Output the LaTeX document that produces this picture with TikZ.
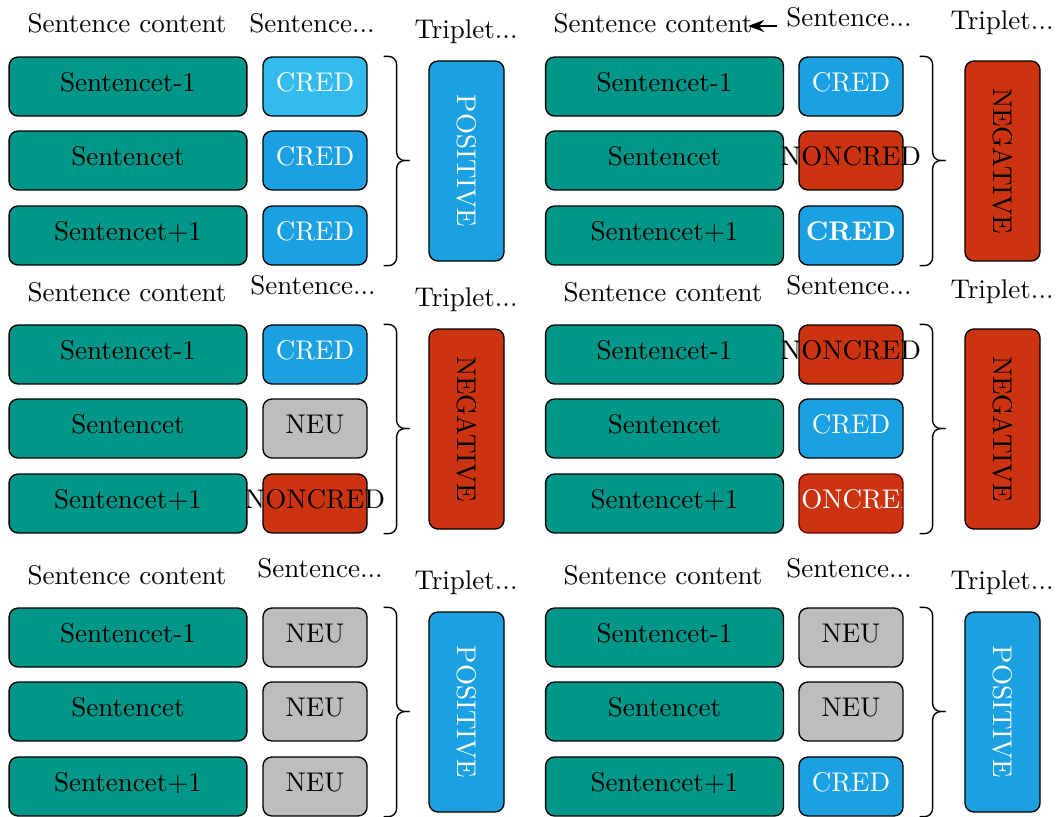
\documentclass[tikz,border=0pt]{standalone}
\usepackage{tikz}
\usetikzlibrary{arrows.meta}

\definecolor{sentgreen}{HTML}{009688}
\definecolor{credblue}{HTML}{1BA1E2}
\definecolor{credlight}{HTML}{33BBEE}
\definecolor{noncredred}{HTML}{CC3311}
\definecolor{noncreddark}{HTML}{6F0000}
\definecolor{neugray}{HTML}{BDBDBD}

\tikzset{
  txt/.style={text height=6.9pt, text depth=2.9pt},
  sent/.style={draw, line width=0.5pt, rounded corners=3.3pt, fill=sentgreen, minimum width=88pt, minimum height=21.8pt, inner sep=0pt, txt},
  lab/.style={draw, line width=0.5pt, rounded corners=3.3pt, minimum width=38.5pt, minimum height=21.8pt, inner sep=0pt, txt},
  cred/.style={lab, fill=credblue, text=white},
  neu/.style={lab, fill=neugray},
  noncred/.style={lab, fill=noncredred},
  trip/.style={draw, line width=0.5pt, rounded corners=3.3pt, minimum width=74pt, minimum height=27.75pt, inner sep=0pt, rotate=-90},
  brk/.style={line width=0.5pt, rounded corners=3pt},
}

\begin{document}
\begin{tikzpicture}[x=0.37pt, y=-0.37pt]
        \useasboundingbox (0,0) rectangle (1059,816);

        % top left
        \node (h11) at (127,23) {Sentence content};
        \node (h12) at (312,23) {Sentence...};
        \node (h13) at (466,32) {Triplet...};
        \node[sent] (s11) at (128,86.5) {Sentencet-1};
        \node[sent] (s12) at (128,160.5) {Sentencet};
        \node[sent] (s13) at (128,235.5) {Sentencet+1};
        \node[lab, fill=credlight, text=white] (c11) at (315,86.5) {CRED};
        \node[cred] (c12) at (315,160.5) {CRED};
        \node[cred] (c13) at (315,235.5) {CRED};
        \node[trip, fill=credblue, text=white] (t1) at (466.5,161) {POSITIVE};
        \draw[brk] ([xshift=5.9pt]c11.north east) -| ([xshift=10.7pt]c12.east) -- ([xshift=15.5pt]c12.east);
        \draw[brk] ([xshift=5.9pt]c13.south east) -| ([xshift=10.7pt]c12.east) -- ([xshift=15.5pt]c12.east);

        % top right
        \node (h21) at (653,23) {Sentence content};
        \node (h22) at (849,17) {Sentence...};
        \node (h23) at (1002,23) {Triplet...};
        \coordinate (p2arr) at (748,26);
        \node[sent] (s21) at (664.5,86.5) {Sentencet-1};
        \node[sent] (s22) at (664.5,160.5) {Sentencet};
        \node[sent] (s23) at (664.5,235.5) {Sentencet+1};
        \node[cred] (c21) at (851,86.5) {CRED};
        \node[noncred, label={[txt]center:NONCRED}] (c22) at (851,160.5) {};
        \node[cred] (c23) at (851,235.5) {\textbf{CRED}};
        \node[trip, fill=noncredred] (t2) at (1002.5,161) {NEGATIVE};
        \draw[brk] ([xshift=5.9pt]c21.north east) -| ([xshift=10.7pt]c22.east) -- ([xshift=15.5pt]c22.east);
        \draw[brk] ([xshift=5.9pt]c23.south east) -| ([xshift=10.7pt]c22.east) -- ([xshift=15.5pt]c22.east);
        \draw[-{Stealth[length=6pt]}, line width=0.5pt] (h22.west |- p2arr) -- (p2arr);

        % middle left
        \node (h31) at (127,292) {Sentence content};
        \node (h32) at (313,285) {Sentence...};
        \node (h33) at (466,300) {Triplet...};
        \node[sent] (s31) at (128,354.5) {Sentencet-1};
        \node[sent] (s32) at (128,428.5) {Sentencet};
        \node[sent] (s33) at (128,503.5) {Sentencet+1};
        \node[cred] (c31) at (315,354.5) {CRED};
        \node[neu] (c32) at (315,428.5) {NEU};
        \node[noncred, label={[txt]center:NONCRED}] (c33) at (315,503.5) {};
        \node[trip, fill=noncredred] (t3) at (466.5,429) {NEGATIVE};
        \draw[brk] ([xshift=5.9pt]c31.north east) -| ([xshift=10.7pt]c32.east) -- ([xshift=15.5pt]c32.east);
        \draw[brk] ([xshift=5.9pt]c33.south east) -| ([xshift=10.7pt]c32.east) -- ([xshift=15.5pt]c32.east);

        % middle right
        \node (h41) at (663,292) {Sentence content};
        \node (h42) at (849,285) {Sentence...};
        \node (h43) at (1002,292) {Triplet...};
        \node[sent] (s41) at (664.5,354.5) {Sentencet-1};
        \node[sent] (s42) at (664.5,428.5) {Sentencet};
        \node[sent] (s43) at (664.5,503.5) {Sentencet+1};
        \node[noncred, label={[txt]center:NONCRED}] (c41) at (851,354.5) {};
        \node[cred] (c42) at (851,428.5) {CRED};
        \node[noncred, draw=noncreddark, path picture={\node[txt, text=white] at (path picture bounding box.center) {NONCRED};}] (c43) at (851,503.5) {};
        \node[trip, fill=noncredred] (t4) at (1002.5,429) {NEGATIVE};
        \draw[brk] ([xshift=5.9pt]c41.north east) -| ([xshift=10.7pt]c42.east) -- ([xshift=15.5pt]c42.east);
        \draw[brk] ([xshift=5.9pt]c43.south east) -| ([xshift=10.7pt]c42.east) -- ([xshift=15.5pt]c42.east);

        % bottom left
        \node (h51) at (127,575) {Sentence content};
        \node (h52) at (320,568) {Sentence...};
        \node (h53) at (466,583) {Triplet...};
        \node[sent] (s51) at (128,637.5) {Sentencet-1};
        \node[sent] (s52) at (128,711.5) {Sentencet};
        \node[sent] (s53) at (128,786.5) {Sentencet+1};
        \node[neu] (c51) at (315,637.5) {NEU};
        \node[neu] (c52) at (315,711.5) {NEU};
        \node[neu] (c53) at (315,786.5) {NEU};
        \node[trip, fill=credblue, text=white] (t5) at (466.5,712) {POSITIVE};
        \draw[brk] ([xshift=5.9pt]c51.north east) -| ([xshift=10.7pt]c52.east) -- ([xshift=15.5pt]c52.east);
        \draw[brk] ([xshift=5.9pt]c53.south east) -| ([xshift=10.7pt]c52.east) -- ([xshift=15.5pt]c52.east);

        % bottom right
        \node (h61) at (663,575) {Sentence content};
        \node (h62) at (849,568) {Sentence...};
        \node (h63) at (1002,583) {Triplet...};
        \node[sent] (s61) at (664.5,637.5) {Sentencet-1};
        \node[sent] (s62) at (664.5,711.5) {Sentencet};
        \node[sent] (s63) at (664.5,786.5) {Sentencet+1};
        \node[neu] (c61) at (851,637.5) {NEU};
        \node[neu] (c62) at (851,711.5) {NEU};
        \node[cred] (c63) at (851,786.5) {CRED};
        \node[trip, fill=credblue, text=white] (t6) at (1002.5,712) {POSITIVE};
        \draw[brk] ([xshift=5.9pt]c61.north east) -| ([xshift=10.7pt]c62.east) -- ([xshift=15.5pt]c62.east);
        \draw[brk] ([xshift=5.9pt]c63.south east) -| ([xshift=10.7pt]c62.east) -- ([xshift=15.5pt]c62.east);
\end{tikzpicture}
\end{document}
